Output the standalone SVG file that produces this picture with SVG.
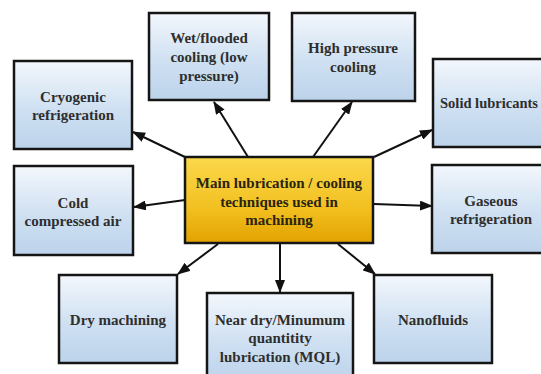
<svg xmlns="http://www.w3.org/2000/svg" width="541" height="374" viewBox="0 0 541 374">
<defs>
<linearGradient id="blue" x1="0" y1="0" x2="0" y2="1">
<stop offset="0" stop-color="#f3f7fc"/>
<stop offset="0.55" stop-color="#cfe0f2"/>
<stop offset="1" stop-color="#bcd3eb"/>
</linearGradient>
<linearGradient id="gold" x1="0" y1="0" x2="0" y2="1">
<stop offset="0" stop-color="#fbd84c"/>
<stop offset="0.6" stop-color="#f2c020"/>
<stop offset="1" stop-color="#e2a200"/>
</linearGradient>
<marker id="ah" markerUnits="userSpaceOnUse" markerWidth="13" markerHeight="10" refX="12" refY="5" orient="auto">
<path d="M0,0 L13,5 L0,10 Z" fill="#111"/>
</marker>
</defs>
<style>
.box{fill:url(#blue);stroke:#151515;stroke-width:2.5}
.main{fill:url(#gold);stroke:#151515;stroke-width:2.5}
text{font-family:"Liberation Serif","Times New Roman",serif;font-weight:bold;font-size:15px;fill:#2e2e2e;text-anchor:middle}
.mt{fill:#2a2410}
.conn line{stroke:#111;stroke-width:2;marker-end:url(#ah)}
</style>
<rect width="541" height="374" fill="#ffffff"/>
<g class="conn" id="connectors">
<line x1="187" y1="158" x2="133" y2="132"/>
<line x1="248" y1="157" x2="214" y2="102"/>
<line x1="313" y1="157" x2="352" y2="102"/>
<line x1="374" y1="157" x2="432" y2="130"/>
<line x1="185" y1="200" x2="134" y2="207"/>
<line x1="374" y1="204" x2="432" y2="206"/>
<line x1="218" y1="244" x2="178" y2="274"/>
<line x1="280" y1="244" x2="280" y2="292"/>
<line x1="338" y1="244" x2="375" y2="274"/>
</g>
<g id="wet">
<rect class="box" x="149" y="13" width="120" height="87"/>
<text x="209" y="43">Wet/flooded</text>
<text x="209" y="62">cooling (low</text>
<text x="209" y="81">pressure)</text>
</g>
<g id="high">
<rect class="box" x="292" y="13" width="123" height="88"/>
<text x="353" y="53">High pressure</text>
<text x="353" y="72">cooling</text>
</g>
<g id="cryo">
<rect class="box" x="14" y="61" width="118" height="88"/>
<text x="73" y="102">Cryogenic</text>
<text x="73" y="120">refrigeration</text>
</g>
<g id="solid">
<rect class="box" x="433" y="59" width="118" height="88"/>
<text x="489" y="108" style="font-size:14.5px">Solid lubricants</text>
</g>
<g id="cold">
<rect class="box" x="14" y="166" width="119" height="89"/>
<text x="73" y="208">Cold</text>
<text x="73" y="226">compressed air</text>
</g>
<g id="main">
<rect class="main" x="185" y="157" width="188" height="86"/>
<text class="mt" x="279" y="188">Main lubrication / cooling</text>
<text class="mt" x="279" y="207">techniques used in</text>
<text class="mt" x="279" y="225">machining</text>
</g>
<g id="gas">
<rect class="box" x="432" y="165" width="118" height="88"/>
<text x="491" y="206">Gaseous</text>
<text x="491" y="224">refrigeration</text>
</g>
<g id="dry">
<rect class="box" x="59" y="275" width="118" height="88"/>
<text x="118" y="325">Dry machining</text>
</g>
<g id="mql">
<rect class="box" x="207" y="293" width="146" height="90"/>
<text x="280" y="325">Near dry/Minumum</text>
<text x="280" y="343">quantitity</text>
<text x="280" y="362">lubrication (MQL)</text>
</g>
<g id="nano">
<rect class="box" x="374" y="275" width="118" height="88"/>
<text x="433" y="325">Nanofluids</text>
</g>
</svg>
